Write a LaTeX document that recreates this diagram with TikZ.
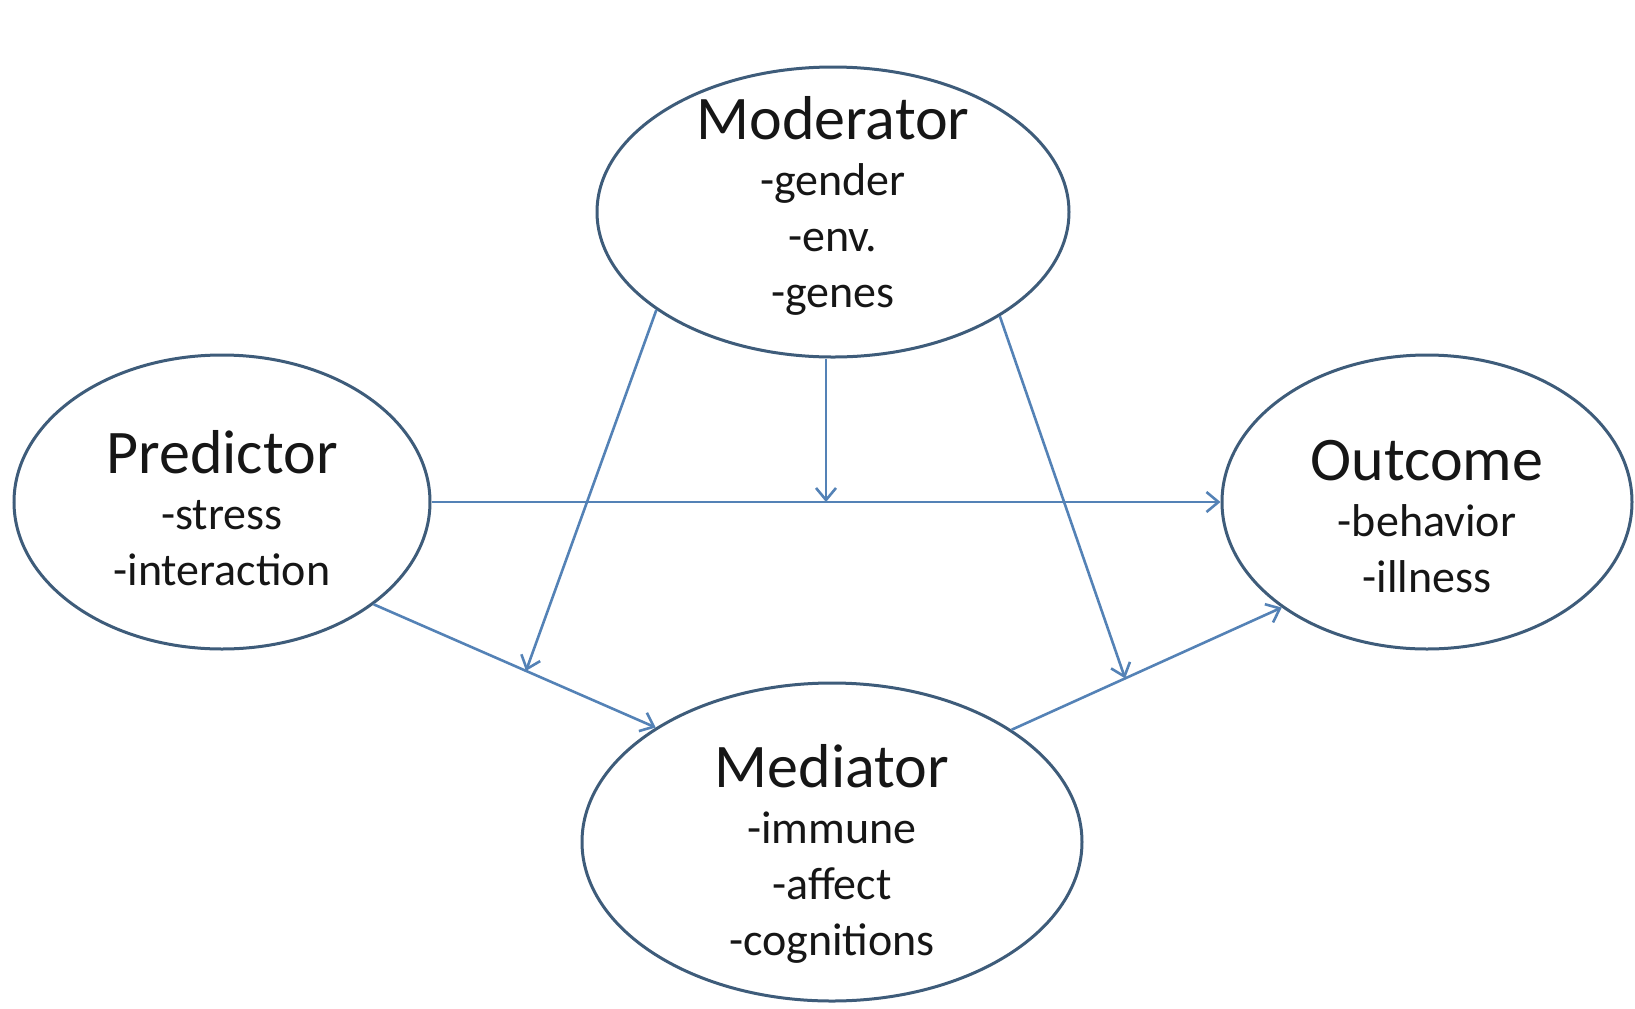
\documentclass[tikz,border=0pt]{standalone}
\usepackage{fontspec}
\setmainfont{Carlito}
\usetikzlibrary{shapes.geometric, arrows.meta, calc}

\definecolor{rimblue}{RGB}{62,92,122}
\definecolor{linkblue}{RGB}{84,130,182}
\definecolor{inkgray}{RGB}{22,22,22}

\tikzset{
	var/.style={ellipse, draw=rimblue, line width=1.5pt, fill=white, inner sep=0pt},
	vtext/.style={align=center, text=inkgray, inner sep=0pt, font=\fontsize{23}{28}\selectfont},
	link/.style={draw=linkblue, line width=1.3pt, -{Straight Barb[length=6pt,width=10pt]}}
}
\newcommand{\vtitle}[1]{{\fontsize{31}{28}\selectfont #1}}

\begin{document}
\begin{tikzpicture}[x=0.5pt, y=-0.5pt]
	\useasboundingbox (0,0) rectangle (1635,1008);

	\node[var, minimum width=236pt, minimum height=145pt,
		label={[vtext, yshift=3pt]center:{\vtitle{Moderator}\\-gender\\-env.\\-genes}}] (mod) at (833,212) {};
	\node[var, minimum width=208pt, minimum height=147pt,
		label={[vtext, yshift=-3pt]center:{\vtitle{Predictor}\\-stress\\-interaction}}] (pred) at (222,502) {};
	\node[var, minimum width=205pt, minimum height=147pt,
		label={[vtext, yshift=-7.5pt]center:{\vtitle{Outcome}\\-behavior\\-illness}}] (out) at (1427,502) {};
	\node[var, minimum width=250pt, minimum height=159pt,
		label={[vtext, yshift=-6pt]center:{\vtitle{Mediator}\\-immune\\-affect\\-cognitions}}] (med) at (832,842) {};

	\coordinate (pm) at ($(pred.-34.5)!0.54!(med.147.8)$);
	\coordinate (mo) at ($(med.32.7)!0.42!(out.-144.4)$);
	\coordinate (po) at ($(pred.east)!0.5!(out.west)$);

	\draw[link] (pred.east) -- (out.west);
	\draw[link] (pred.-34.5) -- (med.147.8);
	\draw[link] (med.32.7) -- (out.-144.4);

	\draw[link] (mod.209.4) -- (pm);
	\draw[link] (po |- mod.south) -- (po);
	\draw[link] (mod.-32.8) -- (mo);
\end{tikzpicture}
\end{document}
